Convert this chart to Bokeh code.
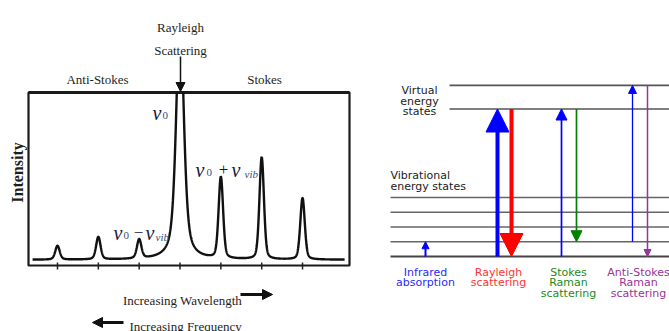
import numpy as np
from bokeh.plotting import figure
from bokeh.models import Range1d, Label, Arrow, NormalHead, ColumnDataSource
from bokeh.layouts import row
from bokeh.core.properties import value
from bokeh.embed import file_html
from bokeh.resources import INLINE

# ---------------- Raman spectrum data ----------------
# band centres (tick units, Rayleigh line at 4), peak heights above baseline,
# half widths at half maximum and Lorentzian fraction of each pseudo-Voigt band
band_pos = [1, 2, 3, 4, 5, 6, 7]
band_height = [8.0, 13.0, 11.0, 143.0, 47.0, 59.0, 35.5]
band_hwhm = [0.065, 0.065, 0.065, 0.11, 0.065, 0.065, 0.065]
band_eta = [0.35, 0.35, 0.35, 0.58, 0.3, 0.3, 0.3]
baseline = 3.3
tick_pos = [1, 2, 3, 4, 5, 6, 7]
spec_start, spec_end = 0.39, 8.03
# axis limits of the spectrum box
XL0, XL1 = 0.29, 8.15
YL0, YL1 = 0.0, 100.0

# ---------------- Energy level diagram data ----------------
vib_levels = [0, 1, 2, 3, 4]
virtual_levels = [10.0, 11.6]
# transitions: start and end energy (vibrational quanta)
trans_start = [0, 0, 10.0, 0, 10.0, 1, 11.6]
trans_end = [1, 10.0, 0, 10.0, 1, 11.6, 0]
process_names = [["Infrared", "absorption"], ["Rayleigh", "scattering"],
                 ["Stokes", "Raman", "scattering"], ["Anti-Stokes", "Raman", "scattering"]]

# ---------------- styling / layout ----------------
trans_x = [50, 122, 136, 186, 201, 257, 272]
trans_color = ["#0000ff", "#0000ff", "#ff0000", "#0000ff", "#008000", "#0000ff", "#993399"]
trans_lw = [2.0, 4.0, 4.0, 1.7, 1.7, 1.3, 1.5]
trans_head = [7, 23, 23, 11, 11, 8, 7]
name_x = [50, 123, 193, 263]
name_color = ["#2a2aff", "#ff3333", "#1a8c1a", "#993399"]

SERIF = "Liberation Serif"
SANS = "DejaVu Sans"
INK = "#1a1a1a"

# ================= left panel: spectrum =================
W_L, H = 375, 331
BOX_L, BOX_R, BOX_T, BOX_B = 28, 349, 92, 265     # spectrum box on the canvas
sx = (BOX_R - BOX_L) / (XL1 - XL0)
sy = (BOX_B - BOX_T) / (YL1 - YL0)

left = figure(width=W_L, height=H,
              x_range=Range1d(XL0 - BOX_L / sx, XL1 + (W_L - BOX_R) / sx),
              y_range=Range1d(YL0 - (H - BOX_B) / sy, YL1 + BOX_T / sy),
              output_backend="svg", toolbar_location=None,
              x_axis_type=None, y_axis_type=None, min_border=0)
left.grid.visible = False
left.outline_line_color = None
left.border_fill_color = "white"

def lx(px):
    return XL0 + (px - BOX_L) / sx

def ly(py):
    return YL0 + (BOX_B - py) / sy

# spectrum box and ticks
left.quad(left=XL0, right=XL1, bottom=YL0, top=YL1, fill_color=None,
          line_color=INK, line_width=2.2)
left.line([XL0, XL1], [YL1, YL1], line_color=INK, line_width=3.2)
left.segment(x0=tick_pos, y0=[ly(269)] * len(tick_pos), x1=tick_pos,
             y1=[ly(262)] * len(tick_pos), line_color="#222222", line_width=1.5)

# pseudo-Voigt band profiles on a flat baseline
xs = np.linspace(spec_start, spec_end, 2000)
ys = np.full_like(xs, baseline)
for c, h, w, eta in zip(band_pos, band_height, band_hwhm, band_eta):
    r2 = ((xs - c) / w) ** 2
    ys += h * (eta / (1 + r2) + (1 - eta) * np.exp(-np.log(2) * r2))
ys_shown = np.where(ys > YL1 + 1.5, np.nan, ys)
left.line(xs, ys_shown, line_color="#111111", line_width=2.4)

def add_text(p, x, y, text, size, font=SERIF, style="normal", color="#1e1e1e",
             align="center", baseline_="alphabetic", angle=0):
    p.add_layout(Label(x=x, y=y, text=text, text_font=font, text_font_size=size,
                       text_font_style=style, text_color=color, text_align=align,
                       text_baseline=baseline_, angle=angle))

add_text(left, lx(180), ly(27), "Rayleigh", "13px")
add_text(left, lx(180), ly(50), "Scattering", "13px")
add_text(left, lx(97), ly(79), "Anti-Stokes", "13px")
add_text(left, lx(264), ly(79), "Stokes", "13px")
add_text(left, lx(17), ly(172), "Intensity", "16px", style="bold", baseline_="middle",
         angle=np.pi / 2)
add_text(left, lx(182), ly(300), "Increasing Wavelength", "13px")
add_text(left, lx(129), ly(326), "Increasing Frequency", "13px", align="left")

def add_arrow(p, x0, y0, x1, y1, size, lw, color):
    p.add_layout(Arrow(end=NormalHead(size=size, fill_color=color, line_color=color, line_width=1),
                       x_start=x0, y_start=y0, x_end=x1, y_end=y1,
                       line_width=lw, line_color=color))

add_arrow(left, lx(180), ly(56), lx(180), ly(91), 9, 1.5, "#111111")
add_arrow(left, lx(240), ly(294), lx(272), ly(294), 10, 3, "#111111")
add_arrow(left, lx(123), ly(322), lx(92), ly(322), 10, 3, "#111111")

NU = "#15153a"
SUB = "#2f4f7f"
# nu_0
add_text(left, lx(152), ly(112), "ν", "20px", style="italic", color=NU, align="left")
add_text(left, lx(162), ly(115), "0", "11px", color=SUB, align="left")
# nu_0 + nu_vib
add_text(left, lx(195), ly(169), "ν", "20px", style="italic", color=NU, align="left")
add_text(left, lx(206), ly(172), "0", "11px", color=SUB, align="left")
add_text(left, lx(223), ly(169), "+", "17px", color=NU)
add_text(left, lx(231), ly(169), "ν", "20px", style="italic", color=NU, align="left")
add_text(left, lx(244), ly(173), "vib", "11px", style="italic", color=SUB, align="left")
# nu_0 - nu_vib
add_text(left, lx(113), ly(232), "ν", "20px", style="italic", color=NU, align="left")
add_text(left, lx(123), ly(235), "0", "11px", color=SUB, align="left")
add_text(left, lx(138), ly(232), "−", "17px", color=NU)
add_text(left, lx(145), ly(232), "ν", "20px", style="italic", color=NU, align="left")
add_text(left, lx(155), ly(236), "vib", "11px", style="italic", color=SUB, align="left")

# ================= right panel: energy levels =================
W_R = 669 - W_L
PX_PER_E = 14.75
GROUND_PY = 256

def ey(py):
    return (GROUND_PY - py) / PX_PER_E

right = figure(width=W_R, height=H, x_range=Range1d(0, W_R),
               y_range=Range1d(ey(H), ey(0)), output_backend="svg", toolbar_location=None,
               x_axis_type=None, y_axis_type=None, min_border=0)
right.grid.visible = False
right.outline_line_color = None
right.border_fill_color = "white"

for e in vib_levels:
    right.line([15, W_R], [e, e], line_color="#444444" if e == 0 else "#666666",
               line_width=2.0 if e == 0 else 1.6)
for e in virtual_levels:
    right.line([74, W_R], [e, e], line_color="#555555", line_width=1.6)

for x, e0, e1, col, lw, hs in zip(trans_x, trans_start, trans_end, trans_color, trans_lw, trans_head):
    add_arrow(right, x, e0, x, e1, hs, lw, col)

lab_x, lab_y, lab_t, lab_c, lab_a = [], [], [], [], []
for t, py in zip(["Virtual", "energy", "states"], [90, 100.5, 111]):
    lab_x.append(44); lab_y.append(ey(py)); lab_t.append(t); lab_c.append("#222222"); lab_a.append("center")
for t, py in zip(["Vibrational", "energy states"], [175, 186]):
    lab_x.append(15); lab_y.append(ey(py)); lab_t.append(t); lab_c.append("#222222"); lab_a.append("left")
for cx, lines, col in zip(name_x, process_names, name_color):
    for k, t in enumerate(lines):
        lab_x.append(cx); lab_y.append(ey(272 + 10.3 * k)); lab_t.append(t)
        lab_c.append(col); lab_a.append("center")

src = ColumnDataSource(dict(x=lab_x, y=lab_y, text=lab_t, color=lab_c, align=lab_a))
right.text(x="x", y="y", text="text", text_color="color", text_align="align",
           text_baseline="alphabetic", text_font=value(SANS), text_font_size="11px", source=src)

layout = row(left, right)
open("out.html", "w").write(file_html(layout, INLINE))
